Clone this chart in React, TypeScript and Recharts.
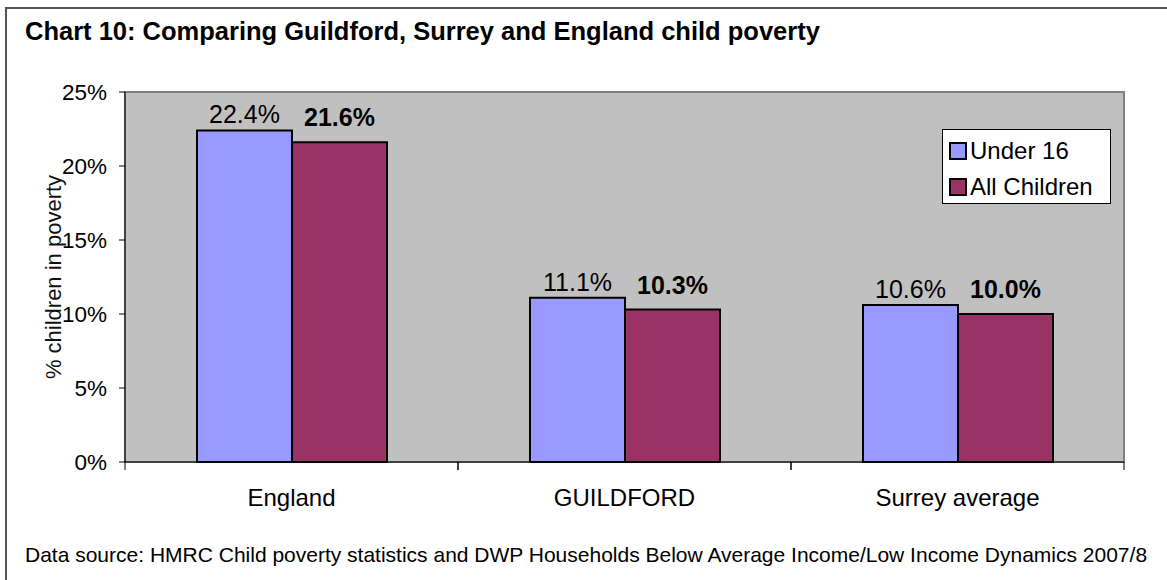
import { BarChart, Bar, XAxis, YAxis, CartesianGrid, LabelList, ReferenceArea } from "recharts";

const areas = ["England", "GUILDFORD", "Surrey average"];
const under16 = [22.4, 11.1, 10.6];
const allChildren = [21.6, 10.3, 10.0];
const yTicks = [0, 5, 10, 15, 20, 25];
const seriesNames = ["Under 16", "All Children"];
const seriesColors = ["#9999FF", "#993366"];

const data = areas.map((name, i) => ({ name, under16: under16[i], allChildren: allChildren[i] }));

const FONT = "'Liberation Sans', Arial, sans-serif";
const BAND = 333;

function CategoryTick(props: any) {
  const { x, y, payload } = props;
  return (
    <g>
      <line x1={x - BAND / 2} x2={x - BAND / 2} y1={y} y2={y + 8} stroke="#000" />
      <line x1={x + BAND / 2} x2={x + BAND / 2} y1={y} y2={y + 8} stroke="#000" />
      <text x={x} y={y + 44} textAnchor="middle" fontSize={24} fill="#000" fontFamily={FONT}>
        {payload.value}
      </text>
    </g>
  );
}

function LegendBox() {
  return (
    <div style={{ position: "absolute", left: 942, top: 129, width: 169, height: 75, background: "#fff", border: "1px solid #000", boxSizing: "border-box", paddingTop: 3, paddingLeft: 6 }}>
      {seriesNames.map((label, i) => (
        <div key={label} style={{ display: "flex", alignItems: "center", height: 36, fontSize: 24, fontFamily: FONT, color: "#000" }}>
          <span style={{ display: "inline-block", width: 14, height: 14, background: seriesColors[i], border: "2px solid #000", marginRight: 3 }} />
          {label}
        </div>
      ))}
    </div>
  );
}

export default function App() {
  return (
    <div style={{ position: "absolute", left: 0, top: 0, width: 1167, height: 580, background: "#fff", fontFamily: FONT }}>
      <div style={{ position: "absolute", left: 5, top: 7, width: 1162, height: 573, borderLeft: "2px solid #555", borderTop: "2px solid #555" }} />
      <div style={{ position: "absolute", left: 25, top: 17, fontSize: 25.5, fontWeight: "bold", color: "#000", whiteSpace: "nowrap" }}>
        Chart 10: Comparing Guildford, Surrey and England child poverty
      </div>
      <BarChart
        width={1167}
        height={580}
        data={data}
        margin={{ top: 92, right: 43, bottom: 88, left: 65 }}
        barGap={0}
        barSize={95}
      >
        <ReferenceArea y1={0} y2={25} fill="#C0C0C0" fillOpacity={1} stroke="#808080" strokeWidth={2} />
        <CartesianGrid vertical={false} stroke="#000" horizontalValues={[5, 10, 15, 20]} />
        <XAxis
          dataKey="name"
          height={30}
          axisLine={{ stroke: "#000" }}
          tickLine={false}
          tickSize={0}
          tickMargin={0}
          tick={<CategoryTick />}
          interval={0}
        />
        <YAxis
          width={60}
          domain={[0, 25]}
          ticks={yTicks}
          tickFormatter={(v) => `${v}%`}
          axisLine={{ stroke: "#000" }}
          tickLine={{ stroke: "#000" }}
          tickSize={6}
          tickMargin={12}
          tick={{ fontSize: 22.5, fill: "#000", fontFamily: FONT }}
          label={{ value: "% children in poverty", angle: -90, position: "insideLeft", offset: -12, style: { fontSize: 22, fill: "#111", fontFamily: FONT, textAnchor: "middle" } }}
        />
        <Bar dataKey="under16" name={seriesNames[0]} fill={seriesColors[0]} stroke="#000" strokeWidth={2} isAnimationActive={false}>
          <LabelList dataKey="under16" position="top" offset={7} formatter={(v: any) => `${Number(v).toFixed(1)}%`} style={{ fontSize: 25, fill: "#000", fontFamily: FONT }} />
        </Bar>
        <Bar dataKey="allChildren" name={seriesNames[1]} fill={seriesColors[1]} stroke="#000" strokeWidth={2} isAnimationActive={false}>
          <LabelList dataKey="allChildren" position="top" offset={16} formatter={(v: any) => `${Number(v).toFixed(1)}%`} style={{ fontSize: 25, fill: "#000", fontWeight: "bold", fontFamily: FONT }} />
        </Bar>
      </BarChart>
      <LegendBox />
      <div style={{ position: "absolute", left: 25, top: 543, fontSize: 21, color: "#000", whiteSpace: "nowrap" }}>
        Data source: HMRC Child poverty statistics and DWP Households Below Average Income/Low Income Dynamics 2007/8
      </div>
    </div>
  );
}
